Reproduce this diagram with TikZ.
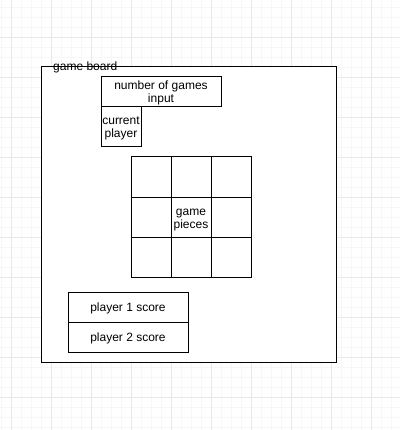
\documentclass[tikz,border=0pt]{standalone}
\usepackage{fontspec}
\setmainfont{Liberation Sans}
\usetikzlibrary{positioning}

\tikzset{
  box/.style={draw, line width=1pt, inner sep=0pt, outer sep=0pt, align=center,
    text height=9.5pt, text depth=0.5pt,
    font=\fontsize{12}{13}\selectfont},
  twolines/.style={text height=22.5pt},
  cell/.style={box, minimum width=40pt, minimum height=40pt},
  gridminor/.style={draw=black!3, line width=0.8pt},
  gridmajor/.style={draw=black!9, line width=0.8pt}
}

\begin{document}
\begin{tikzpicture}[x=1pt, y=-1pt]
    \useasboundingbox (0,0) rectangle (400,430);
    \fill[white] (0,0) rectangle (400,430);

    % background grid
    \foreach \k in {1,11,...,391} {
      \draw[gridminor] (\k,0) -- (\k,430);
    }
    \foreach \k in {7,17,...,427} {
      \draw[gridminor] (0,\k) -- (400,\k);
    }
    \foreach \k in {11,51,...,391} {
      \draw[gridmajor] (\k,0) -- (\k,430);
    }
    \foreach \k in {37,77,...,397} {
      \draw[gridmajor] (0,\k) -- (400,\k);
    }

    \node (board) [box, minimum width=295pt, minimum height=295pt, fill=white]
      at (188.5,214.5) {};
    \node (boardlabel) [font=\fontsize{12}{13}\selectfont, inner sep=0pt, anchor=west]
      at (53,67) {game board};

    \node (games) [box, twolines, minimum width=120pt, minimum height=30pt] at (161,92)
      {number of games\\input};
    \node (player) [box, twolines, minimum width=40pt, minimum height=40pt, anchor=north west]
      at (games.south west) {current\\player};

    \foreach \r in {0,1,2} {
      \foreach \c in {0,1,2} {
        \node (cell-\r-\c) [cell] at (151+40*\c,177+40*\r) {};
      }
    }
    \node (pieces) [box, twolines, draw=none] at (cell-1-1) {game\\pieces};

    \node (score1) [box, minimum width=120pt, minimum height=30pt] at (128,307)
      {player 1 score};
    \node (score2) [box, minimum width=120pt, minimum height=30pt, anchor=north]
      at (score1.south) {player 2 score};
\end{tikzpicture}
\end{document}
